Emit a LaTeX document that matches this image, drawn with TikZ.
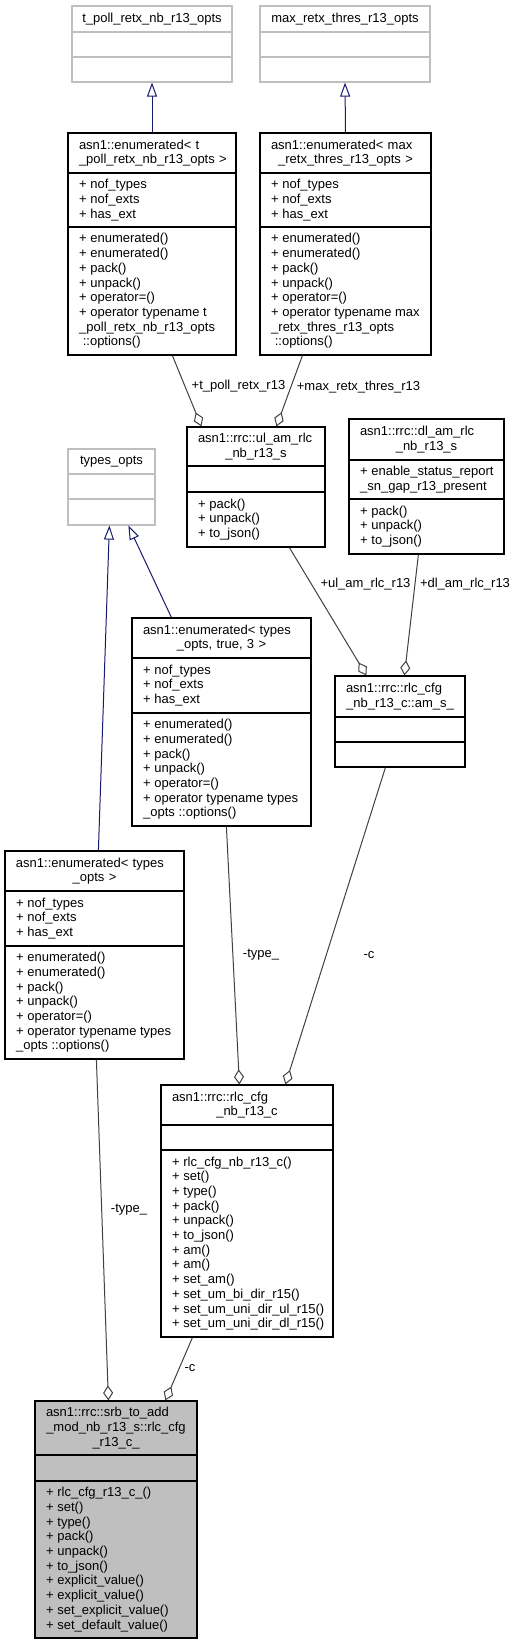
\documentclass[tikz,border=0pt]{standalone}
\usepackage{fontspec}
\setmainfont{Liberation Sans}
\usetikzlibrary{arrows.meta,fit}

\definecolor{edgegray}{HTML}{404040}
\definecolor{boxgray}{HTML}{BFBFBF}
\definecolor{inhblue}{HTML}{191970}

% compartment rule across a class box at height #3
\newcommand{\seprule}[3][black]{\draw[#1, line width=1.2pt] (#2.west |- 0,#3) -- (#2.east |- 0,#3);}

\begin{document}
\begin{tikzpicture}[x=1pt,y=-1pt,
  every node/.style={font=\fontsize{13}{14.7}\selectfont, inner sep=0pt},
  cls/.style={inner sep=0pt, draw=black, line width=1.2pt},
  ghost/.style={cls, draw=boxgray},
  ttl/.style={align=center},
  mbr/.style={anchor=west, align=left},
  inh/.style={draw=inhblue, line width=1pt, -{Triangle[open,length=14pt,width=10pt]}},
  aggr/.style={draw=edgegray, line width=1pt, -{Diamond[open,length=15pt,width=10pt]}}]
  \useasboundingbox (0,0) rectangle (515,1644);

  % base option classes
  \node[ghost, fit={(72,6) (232,82)}] (tpollopts) {};
  \seprule[boxgray]{tpollopts}{32} \seprule[boxgray]{tpollopts}{57}
  \node[ttl] (tpollopts-t) at (152,19) {t\_poll\_retx\_nb\_r13\_opts};

  \node[ghost, fit={(260,6) (430,82)}] (maxopts) {};
  \seprule[boxgray]{maxopts}{32} \seprule[boxgray]{maxopts}{57}
  \node[ttl] (maxopts-t) at (345,19) {max\_retx\_thres\_r13\_opts};

  \node[ghost, fit={(68,449) (155,525)}] (typesopts) {};
  \seprule[boxgray]{typesopts}{474} \seprule[boxgray]{typesopts}{499}
  \node[ttl] (typesopts-t) at (111.5,461.5) {types\_opts};

  % enumerated templates
  \node[cls, fit={(68,133) (236,355)}] (enumtpoll) {};
  \seprule{enumtpoll}{173} \seprule{enumtpoll}{227}
  \node[ttl, text width=146pt] (enumtpoll-t) at (152,153) {\makebox[\hsize][l]{asn1::enumerated< t}\\\_poll\_retx\_nb\_r13\_opts~>};
  \node[mbr] (enumtpoll-a) at (79,200) {+ nof\_types\\+ nof\_exts\\+ has\_ext};
  \node[mbr] (enumtpoll-m) at (79,291) {+ enumerated()\\+ enumerated()\\+ pack()\\+ unpack()\\+ operator=()\\+ operator typename t\\\_poll\_retx\_nb\_r13\_opts\\~::options()};

  \node[cls, fit={(260,133) (431,355)}] (enummax) {};
  \seprule{enummax}{173} \seprule{enummax}{227}
  \node[ttl, text width=149pt] (enummax-t) at (345.5,153) {\makebox[\hsize][l]{asn1::enumerated< max}\\\_retx\_thres\_r13\_opts~>};
  \node[mbr] (enummax-a) at (271,200) {+ nof\_types\\+ nof\_exts\\+ has\_ext};
  \node[mbr] (enummax-m) at (271,291) {+ enumerated()\\+ enumerated()\\+ pack()\\+ unpack()\\+ operator=()\\+ operator typename max\\\_retx\_thres\_r13\_opts\\~::options()};

  \node[cls, fit={(132,618) (311,826)}] (enumtypes3) {};
  \seprule{enumtypes3}{658} \seprule{enumtypes3}{713}
  \node[ttl, text width=157pt] (enumtypes3-t) at (221.5,638) {\makebox[\hsize][l]{asn1::enumerated< types}\\\_opts,~true,~3~>};
  \node[mbr] (enumtypes3-a) at (143,685.5) {+ nof\_types\\+ nof\_exts\\+ has\_ext};
  \node[mbr] (enumtypes3-m) at (143,769.5) {+ enumerated()\\+ enumerated()\\+ pack()\\+ unpack()\\+ operator=()\\+ operator typename types\\\_opts ::options()};

  \node[cls, fit={(5,851) (184,1059)}] (enumtypes) {};
  \seprule{enumtypes}{891} \seprule{enumtypes}{946}
  \node[ttl, text width=157pt] (enumtypes-t) at (94.5,871) {\makebox[\hsize][l]{asn1::enumerated< types}\\\_opts~>};
  \node[mbr] (enumtypes-a) at (16,918.5) {+ nof\_types\\+ nof\_exts\\+ has\_ext};
  \node[mbr] (enumtypes-m) at (16,1002.5) {+ enumerated()\\+ enumerated()\\+ pack()\\+ unpack()\\+ operator=()\\+ operator typename types\\\_opts ::options()};

  % rlc structs
  \node[cls, fit={(187,427) (325,547)}] (ulam) {};
  \seprule{ulam}{466} \seprule{ulam}{492}
  \node[ttl, text width=116pt] (ulam-t) at (256,446.5) {\makebox[\hsize][l]{asn1::rrc::ul\_am\_rlc}\\\_nb\_r13\_s};
  \node[mbr] (ulam-m) at (198,519.5) {+ pack()\\+ unpack()\\+ to\_json()};

  \node[cls, fit={(349,419) (504,554)}] (dlam) {};
  \seprule{dlam}{460} \seprule{dlam}{499}
  \node[ttl, text width=133pt] (dlam-t) at (426.5,439.5) {\makebox[\hsize][l]{asn1::rrc::dl\_am\_rlc}\\\_nb\_r13\_s};
  \node[mbr] (dlam-a) at (360,479.5) {+ enable\_status\_report\\\_sn\_gap\_r13\_present};
  \node[mbr] (dlam-m) at (360,526.5) {+ pack()\\+ unpack()\\+ to\_json()};

  \node[cls, fit={(335,676) (465,767)}] (ams) {};
  \seprule{ams}{717} \seprule{ams}{742}
  \node[ttl, text width=108pt] (ams-t) at (400,696.5) {\makebox[\hsize][l]{asn1::rrc::rlc\_cfg}\\\_nb\_r13\_c::am\_s\_};

  \node[cls, fit={(161,1085) (333,1337)}] (rlccfg) {};
  \seprule{rlccfg}{1125} \seprule{rlccfg}{1150}
  \node[ttl, text width=150pt] (rlccfg-t) at (247,1105) {\makebox[\hsize][l]{asn1::rrc::rlc\_cfg}\\\_nb\_r13\_c};
  \node[mbr] (rlccfg-m) at (172,1243.5) {+ rlc\_cfg\_nb\_r13\_c()\\+ set()\\+ type()\\+ pack()\\+ unpack()\\+ to\_json()\\+ am()\\+ am()\\+ set\_am()\\+ set\_um\_bi\_dir\_r15()\\+ set\_um\_uni\_dir\_ul\_r15()\\+ set\_um\_uni\_dir\_dl\_r15()};

  % the class itself
  \node[cls, fill=boxgray, fit={(35,1401) (197,1638)}] (srb) {};
  \seprule{srb}{1455} \seprule{srb}{1481}
  \node[ttl, text width=140pt] (srb-t) at (116,1428) {\makebox[\hsize][l]{asn1::rrc::srb\_to\_add}\\\_mod\_nb\_r13\_s::rlc\_cfg\\\_r13\_c\_};
  \node[mbr] (srb-m) at (46,1559.5) {+ rlc\_cfg\_r13\_c\_()\\+ set()\\+ type()\\+ pack()\\+ unpack()\\+ to\_json()\\+ explicit\_value()\\+ explicit\_value()\\+ set\_explicit\_value()\\+ set\_default\_value()};

  % inheritance
  \draw[inh] (enumtpoll.north) -- (tpollopts.south);
  \draw[inh] (enummax.north) -- (maxopts.south);
  \draw[inh] ([xshift=40pt]enumtypes3.north west) -- ([xshift=61pt]typesopts.south west);
  \draw[inh] ([xshift=94pt]enumtypes.north west) -- ([xshift=42pt]typesopts.south west);

  % aggregation
  \draw[aggr] ([xshift=105pt]enumtpoll.south west) -- ([xshift=15pt]ulam.north west);
  \draw[aggr] ([xshift=43pt]enummax.south west) -- ([xshift=90pt]ulam.north west);
  \draw[aggr] ([xshift=103pt]ulam.south west) -- ([xshift=32pt]ams.north west);
  \draw[aggr] ([xshift=70pt]dlam.south west) -- ([xshift=70pt]ams.north west);
  \draw[aggr] ([xshift=95pt]enumtypes3.south west) -- ([xshift=79pt]rlccfg.north west);
  \draw[aggr] ([xshift=51pt]ams.south west) -- ([xshift=125pt]rlccfg.north west);
  \draw[aggr] ([xshift=92pt]enumtypes.south west) -- ([xshift=74pt]srb.north west);
  \draw[aggr] ([xshift=32pt]rlccfg.south west) -- ([xshift=131pt]srb.north west);

  \node (l-tpoll) at (238.5,386) {+t\_poll\_retx\_r13};
  \node (l-max) at (358.5,387) {+max\_retx\_thres\_r13};
  \node (l-ul) at (365.5,584) {+ul\_am\_rlc\_r13};
  \node (l-dl) at (465,584) {+dl\_am\_rlc\_r13};
  \node (l-type3) at (261,955) {-type\_};
  \node (l-c1) at (369,955) {-c};
  \node (l-type) at (129,1210) {-type\_};
  \node (l-c2) at (190,1368) {-c};
\end{tikzpicture}
\end{document}
